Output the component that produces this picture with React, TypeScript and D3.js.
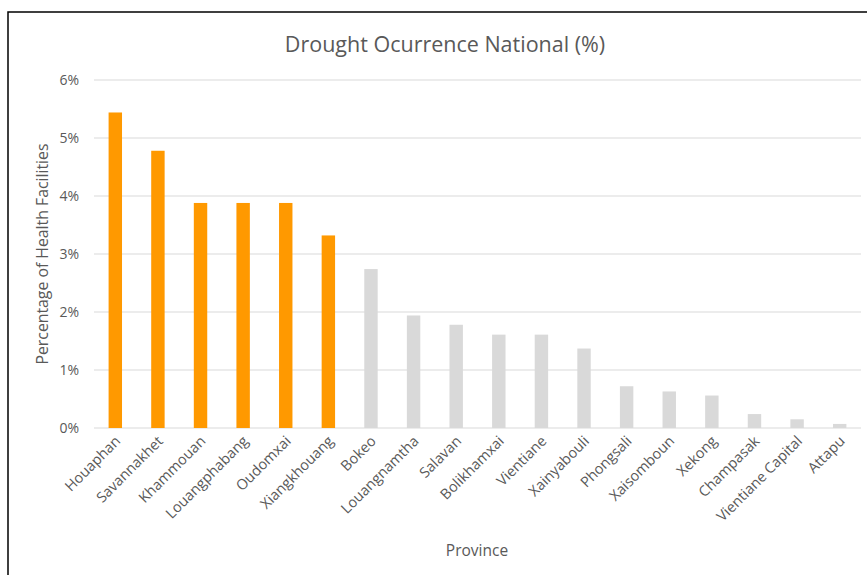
import React from "react";
import * as d3 from "d3";

const provinces = [
  "Houaphan", "Savannakhet", "Khammouan", "Louangphabang", "Oudomxai", "Xiangkhouang",
  "Bokeo", "Louangnamtha", "Salavan", "Bolikhamxai", "Vientiane", "Xainyabouli",
  "Phongsali", "Xaisomboun", "Xekong", "Champasak", "Vientiane Capital", "Attapu",
];
const values = [5.44, 4.78, 3.88, 3.88, 3.88, 3.32, 2.74, 1.94, 1.78, 1.61, 1.61, 1.37, 0.72, 0.63, 0.56, 0.24, 0.15, 0.07];
const highlighted = [true, true, true, true, true, true, false, false, false, false, false, false, false, false, false, false, false, false];
const yTicks = [0, 1, 2, 3, 4, 5, 6];

const W = 867, H = 575;
const M = { left: 94, right: 861, top: 80, bottom: 428 };
const FONT = "'Open Sans', 'Noto Sans', sans-serif";
const TXT = "#595959";

export default function App() {
  const x = d3.scaleBand<string>().domain(provinces).range([M.left, M.right]).paddingInner(0.685).paddingOuter(0.3425);
  const y = d3.scaleLinear().domain([0, 6]).range([M.bottom, M.top]);
  return (
    <svg width={W} height={H} style={{ position: "absolute", left: 0, top: 0, background: "#fff" }}>
      <rect x={8} y={12} width={W + 10} height={H + 10} fill="#fff" stroke="#000" strokeWidth={1.5} />
      <text x={445} y={52} textAnchor="middle" fontFamily={FONT} fontSize={21.5} fill={TXT}>
        Drought Ocurrence National (%)
      </text>
      {yTicks.map((t) => (
        <g key={t}>
          <line x1={M.left} x2={M.right} y1={y(t)} y2={y(t)} stroke="#d9d9d9" strokeWidth={1} />
          <text x={79} y={y(t)} dy="0.35em" textAnchor="end" fontFamily={FONT} fontSize={14} fill={TXT}>
            {t}%
          </text>
        </g>
      ))}
      {provinces.map((p, i) => (
        <rect key={p} x={x(p)} y={y(values[i])} width={x.bandwidth()} height={y(0) - y(values[i])}
          fill={highlighted[i] ? "#ff9900" : "#d9d9d9"} />
      ))}
      {provinces.map((p) => {
        const cx = (x(p) as number) + x.bandwidth() / 2;
        return (
          <text key={p} transform={`translate(${cx + 6},${442}) rotate(-45)`} textAnchor="end"
            fontFamily={FONT} fontSize={14.5} fill={TXT}>
            {p}
          </text>
        );
      })}
      <text transform={`translate(48,254) rotate(-90)`} textAnchor="middle" fontFamily={FONT} fontSize={15.8} fill={TXT}>
        Percentage of Health Facilities
      </text>
      <text x={477} y={556} textAnchor="middle" fontFamily={FONT} fontSize={15.5} fill={TXT}>
        Province
      </text>
    </svg>
  );
}
